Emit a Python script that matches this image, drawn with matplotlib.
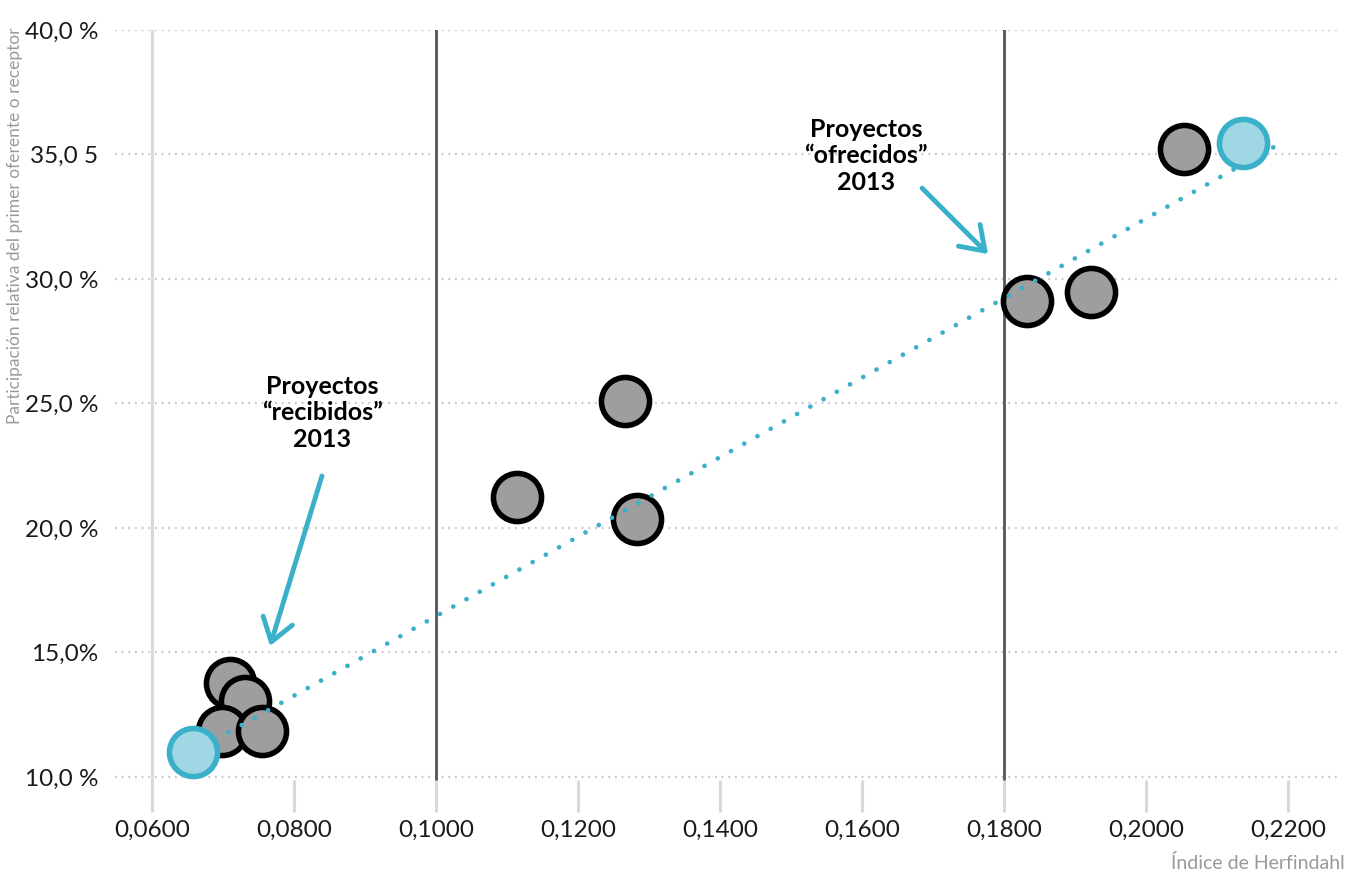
import matplotlib
matplotlib.use('Agg')
import matplotlib.pyplot as plt

plt.rcParams['font.family'] = ['Lato', 'DejaVu Sans']

# Datos: índice de Herfindahl vs participación del primer oferente/receptor
x_gris = [0.0710, 0.0731, 0.0699, 0.0755, 0.1114, 0.1266, 0.1283, 0.1832, 0.1923, 0.2054]
y_gris = [13.78, 13.05, 11.85, 11.85, 21.24, 25.10, 20.36, 29.12, 29.48, 35.22]

# Proyectos 2013 (recibidos / ofrecidos)
x_2013 = [0.0658, 0.2137]
y_2013 = [11.00, 35.46]

# Línea de tendencia
x_tend = [0.0689, 0.2185]
y_tend = [11.49, 35.38]

x_ticks = [0.06, 0.08, 0.10, 0.12, 0.14, 0.16, 0.18, 0.20, 0.22]
x_labels = ['0,0600', '0,0800', '0,1000', '0,1200', '0,1400', '0,1600', '0,1800', '0,2000', '0,2200']
y_ticks = [10, 15, 20, 25, 30, 35, 40]
y_labels = ['10,0 %', '15,0%', '20,0 %', '25,0 %', '30,0 %', '35,0 5', '40,0 %']

azul = '#3ab0c9'
azul_claro = '#9fd8e4'

fig = plt.figure(figsize=(13.47, 8.75), dpi=100)
ax = fig.add_axes([115/1347, 1 - 812/875, (1340 - 115)/1347, (812 - 30)/875])
ax.set_xlim(0.05479, 0.22732)
ax.set_ylim(8.594, 40.0)

# Líneas de referencia verticales
ax.axvline(0.06, color='#d9d9d9', lw=2.3, zorder=1)
ax.axvline(0.10, color='#555555', lw=2.0, zorder=1)
ax.axvline(0.18, color='#555555', lw=2.0, zorder=1)

# Cuadrícula horizontal punteada
for yv in y_ticks:
    ax.axhline(yv, color='#c8c8c8', lw=1.6, ls=(0, (0.8, 2.2)), zorder=0.5)

ax.scatter(x_gris, y_gris, s=1200, c='#9e9e9e', edgecolors='black', linewidths=4, zorder=3)
ax.plot(x_tend, y_tend, color=azul, lw=3.4, ls=(0, (0.01, 3.2)),
        dash_capstyle='round', zorder=4)
ax.scatter(x_2013, y_2013, s=1200, c=azul_claro, edgecolors=azul, linewidths=4, zorder=5)

# Anotaciones
flecha = dict(arrowstyle='->,head_length=0.8,head_width=0.55',
              color=azul, lw=3.5, mutation_scale=20, shrinkA=0, shrinkB=0)
ax.text(0.08394, 24.62, 'Proyectos\n“recibidos”\n2013', ha='center', va='center',
        fontsize=18, fontweight='bold', linespacing=1.2, color='black')
ax.annotate('', xy=(0.07662, 15.26), xytext=(0.08394, 22.09), arrowprops=flecha)
ax.text(0.16057, 34.94, 'Proyectos\n“ofrecidos”\n2013', ha='center', va='center',
        fontsize=18, fontweight='bold', linespacing=1.2, color='black')
ax.annotate('', xy=(0.17775, 31.00), xytext=(0.16846, 33.65), arrowprops=flecha)

# Ejes
ax.set_xticks(x_ticks)
ax.set_xticklabels(x_labels)
ax.set_yticks(y_ticks)
ax.set_yticklabels(y_labels)
ax.tick_params(axis='x', direction='in', length=23, width=2.2, color='#d9d9d9',
               labelsize=17.5, pad=6, labelcolor='#1a1a1a')
ax.tick_params(axis='y', length=0, labelsize=17.5, pad=12, labelcolor='#1a1a1a')
for s in ax.spines.values():
    s.set_visible(False)

fig.text(15/1347, 1 - 28/875, 'Participación relativa del primer oferente o receptor',
         rotation=90, ha='center', va='top', fontsize=12.5, color='#9a9a9a')
fig.text(1345/1347, 1 - 863/875, 'Índice de Herfindahl', ha='right', va='center',
         fontsize=14, color='#9a9a9a')

fig.savefig('out.png', dpi=100)
